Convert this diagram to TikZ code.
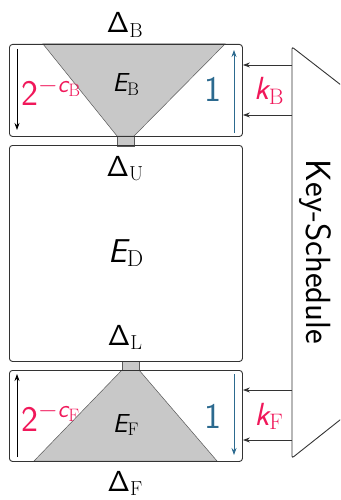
\RequirePackage{fix-cm}
\documentclass[tikz,border=0pt]{standalone}
\usepackage{amsmath}
\usetikzlibrary{arrows.meta}
\definecolor{myred}{HTML}{F0185A}
\definecolor{myblue}{HTML}{2C6A8F}
\definecolor{mygray}{HTML}{C8C8C8}
\definecolor{edgec}{HTML}{333333}
\newcommand\sv[1]{\text{\sffamily\itshape #1}}
\newcommand\fsz[1]{\sffamily\fontsize{#1}{#1}\selectfont}
\begin{document}
\begin{tikzpicture}[x=1pt,y=-1pt,
  boxc/.style={draw=edgec, line width=0.9pt, rounded corners=3pt, minimum width=233pt, anchor=north west, inner sep=0pt},
  cone/.style={fill=mygray, draw=gray!70!black, line width=0.5pt},
  arr/.style={-{Stealth[length=7pt,width=5pt]}, line width=0.8pt},
  lbl/.style={inner sep=0pt}]
\useasboundingbox (0,0) rectangle (340,500);
\clip (0,0) rectangle (340,500);
% cones and necks
\path[cone] (43,44) -- (225,44) -- (134,136) -- (117,136) -- cycle;
\path[cone] (117,136) rectangle (134,146);
\path[cone] (122,370) -- (139,370) -- (217,461) -- (34,461) -- cycle;
\path[cone] (122,361) rectangle (139,370);
% boxes
\node[boxc, minimum height=92pt] (boxB) at (9,44) {};
\node[boxc, minimum height=216pt] (boxD) at (9,145) {};
\node[boxc, minimum height=91pt] (boxF) at (9,370) {};
% key schedule shape
\draw[edgec, line width=0.9pt, rounded corners=2pt] (350,92) -- (292,47) -- (292,458) -- (350,412);
\node[lbl, rotate=-90, font=\fsz{35}] (ks) at (315,252) {Key-Schedule};
% key arrows
\coordinate (kb1) at (292,65);
\coordinate (kb2) at (292,115);
\coordinate (kf1) at (292,390);
\coordinate (kf2) at (292,440);
\draw[arr, edgec] (kb1) -- (kb1 -| boxB.east);
\draw[arr, edgec] (kb2) -- (kb2 -| boxB.east);
\draw[arr, edgec] (kf1) -- (kf1 -| boxF.east);
\draw[arr, edgec] (kf2) -- (kf2 -| boxF.east);
% side arrows
\coordinate (lb1) at (17,49); \coordinate (lb2) at (17,130);
\coordinate (lf1) at (17,457); \coordinate (lf2) at (17,374);
\coordinate (rb1) at (234,133); \coordinate (rb2) at (234,50);
\coordinate (rf1) at (234,374); \coordinate (rf2) at (234,455);
\draw[arr, black] (lb1) -- (lb2);
\draw[arr, black] (lf1) -- (lf2);
\draw[arr, myblue] (rb1) -- (rb2);
\draw[arr, myblue] (rf1) -- (rf2);
% labels
\node[lbl, anchor=base, font=\fsz{29}] (dB) at (125,33) {$\mathsf{\Delta}_{\mathrm{B}}$};
\node[lbl, anchor=base, font=\fsz{29}] (dU) at (125,176) {$\mathsf{\Delta}_{\mathrm{U}}$};
\node[lbl, anchor=base, font=\fsz{29}] (dL) at (125,345) {$\mathsf{\Delta}_{\mathrm{L}}$};
\node[lbl, anchor=base, font=\fsz{29}] (dF) at (125,491) {$\mathsf{\Delta}_{\mathrm{F}}$};
\node[lbl, anchor=base, font=\fsz{26}] (eB) at (126,92) {$\sv{E}_{\mathrm{B}}$};
\node[lbl, anchor=base, font=\fsz{33}] (eD) at (126,262) {$\sv{E}_{\mathrm{D}}$};
\node[lbl, anchor=base, font=\fsz{26}] (eF) at (126,432) {$\sv{E}_{\mathrm{F}}$};
\node[lbl, anchor=base west, text=myred, font=\fsz{36}] (cB) at (21,106) {2$^{-\sv{c}_{\mathrm{B}}}$};
\node[lbl, anchor=base west, text=myred, font=\fsz{36}] (cF) at (21,431) {2$^{-\sv{c}_{\mathrm{F}}}$};
\node[lbl, anchor=base, text=myblue, font=\fsz{36}] (oB) at (213,102) {1};
\node[lbl, anchor=base, text=myblue, font=\fsz{36}] (oF) at (213,428) {1};
\node[lbl, anchor=base, text=myred, font=\fsz{32}] (kB) at (269,100) {$\sv{k}_{\mathrm{B}}$};
\node[lbl, anchor=base, text=myred, font=\fsz{32}] (kF) at (269,425) {$\sv{k}_{\mathrm{F}}$};
\end{tikzpicture}
\end{document}
